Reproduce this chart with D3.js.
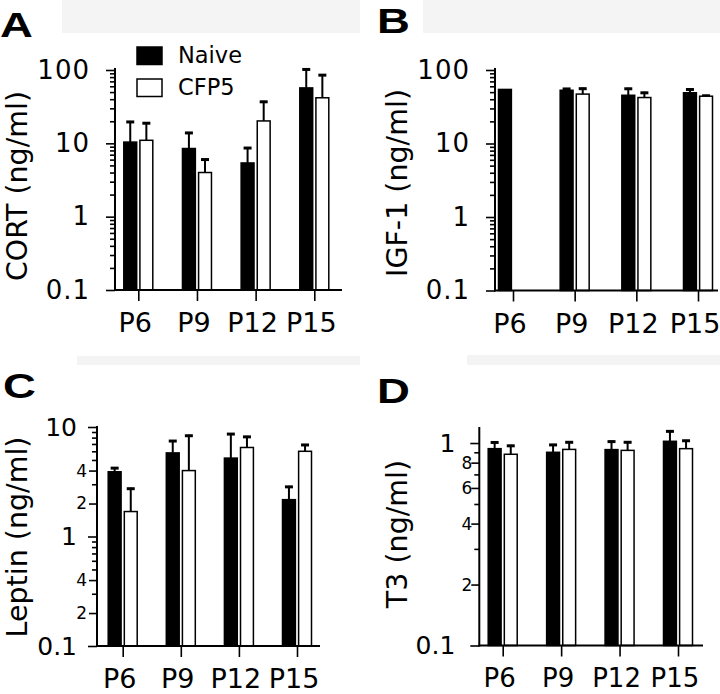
<!DOCTYPE html>
<html><head><meta charset="utf-8">
<script src="https://cdn.jsdelivr.net/npm/d3@7"></script>
<style>
html,body{margin:0;padding:0;background:#fff;}
svg{display:block;font-family:"DejaVu Sans",sans-serif;}
</style></head><body>
<svg id="chart" width="720" height="694"></svg>
<script>
// ---------------- data ----------------
const categories = ["P6", "P9", "P12", "P15"];
const seriesNames = ["Naive", "CFP5"];

const cortNaive = [10.4, 8.5, 5.4, 57];
const cortNaiveSem = [9.8, 5.8, 3.5, 48];
const cortCfp5 = [11, 4.0, 20.2, 41.8];
const cortCfp5Sem = [8.4, 2.2, 17.8, 46];

const igfNaive = [54.4, 53, 45.3, 49];
const igfNaiveSem = [0, 4, 12, 7];
const igfCfp5 = [null, 47, 42.2, 44];
const igfCfp5Sem = [null, 10.5, 8.3, 2];

const leptinNaive = [3.9, 5.8, 5.2, 2.17];
const leptinNaiveSem = [0.4, 1.8, 3.6, 0.73];
const leptinCfp5 = [1.69, 4.0, 6.5, 6.0];
const leptinCfp5Sem = [1.1, 4.5, 1.8, 1.0];

const t3Naive = [0.938, 0.90, 0.928, 1.02];
const t3NaiveSem = [0.08, 0.09, 0.10, 0.135];
const t3Cfp5 = [0.88, 0.93, 0.92, 0.938];
const t3Cfp5Sem = [0.10, 0.09, 0.10, 0.10];

const cortDomain = [0.1, 100];
const leptinDomain = [0.1, 10];
const t3Domain = [0.1, 1.2];

const decadeTicks = [0.1, 1, 10, 100];
const decadeTickLabels = ["0.1", "1", "10", "100"];
const leptinTicks = [0.1, 1, 10];
const leptinTickLabels = ["0.1", "1", "10"];
const leptinSubTicks = [0.2, 0.4, 2, 4];
const leptinSubLabels = ["2", "4", "2", "4"];
const t3Ticks = [0.1, 1];
const t3TickLabels = ["0.1", "1"];
const t3SubTicks = [0.2, 0.4, 0.6, 0.8];
const t3SubLabels = ["2", "4", "6", "8"];

const panelLetters = ["A", "B", "C", "D"];
const yTitles = ["CORT (ng/ml)", "IGF-1 (ng/ml)", "Leptin (ng/ml)", "T3 (ng/ml)"];

// ---------------- layout ----------------
const panels = [
  {letter: panelLetters[0], title: yTitles[0], naive: cortNaive, naiveSem: cortNaiveSem, cfp: cortCfp5, cfpSem: cortCfp5Sem,
   domain: cortDomain, ticks: decadeTicks, tickLabels: decadeTickLabels, sub: [], subLabels: [],
   lx: 0, ly: 37, axisX: 115, xEnd: 342, yTop: 70, yBottom: 290, lineTop: 68, c0: 138.3, c3: 314.3,
   titleX: 27, titleY: 186, xLabelY: 332, xFont: 27, tickFont: 26, tickSpacing: 1, tickGap: 25, subFont: 17, subGap: 10, legend: true},
  {letter: panelLetters[1], title: yTitles[1], naive: igfNaive, naiveSem: igfNaiveSem, cfp: igfCfp5, cfpSem: igfCfp5Sem,
   domain: cortDomain, ticks: decadeTicks, tickLabels: decadeTickLabels, sub: [], subLabels: [],
   lx: 377, ly: 33, axisX: 495, xEnd: 718, yTop: 70, yBottom: 290.5, lineTop: 68, c0: 513, c3: 698,
   titleX: 407, titleY: 183, xLabelY: 333, xFont: 27, tickFont: 26, tickSpacing: 1, tickGap: 25, subFont: 17, subGap: 10, legend: false},
  {letter: panelLetters[2], title: yTitles[2], naive: leptinNaive, naiveSem: leptinNaiveSem, cfp: leptinCfp5, cfpSem: leptinCfp5Sem,
   domain: leptinDomain, ticks: leptinTicks, tickLabels: leptinTickLabels, sub: leptinSubTicks, subLabels: leptinSubLabels,
   lx: 3, ly: 398, axisX: 97, xEnd: 320, yTop: 427, yBottom: 646, lineTop: 426, c0: 122.7, c3: 297,
   titleX: 27, titleY: 537, xLabelY: 688, xFont: 27, tickFont: 25, tickSpacing: 0, tickGap: 20, subFont: 17, subGap: 10, legend: false},
  {letter: panelLetters[3], title: yTitles[3], naive: t3Naive, naiveSem: t3NaiveSem, cfp: t3Cfp5, cfpSem: t3Cfp5Sem,
   domain: t3Domain, ticks: t3Ticks, tickLabels: t3TickLabels, sub: t3SubTicks, subLabels: t3SubLabels,
   lx: 377, ly: 403, axisX: 479.3, xEnd: 703, yTop: 427, yBottom: 645.5, lineTop: 427, c0: 502.7, c3: 678,
   titleX: 407, titleY: 534, xLabelY: 687, xFont: 26, tickFont: 25, tickSpacing: 0, tickGap: 24, subFont: 17, subGap: 7, legend: false}
];

const svg = d3.select("#chart");

// faint scan-background strips
const strips = [[62, 0, 298, 33], [423, 0, 297, 33], [77, 356, 283, 9], [467, 355, 253, 10]];
svg.selectAll("rect.strip").data(strips).join("rect").attr("class", "strip")
  .attr("x", d => d[0]).attr("y", d => d[1]).attr("width", d => d[2]).attr("height", d => d[3])
  .attr("fill", "#f4f4f4");

panels.forEach(p => {
  const g = svg.append("g");
  const y = d3.scaleLog().domain(p.domain).range([p.yBottom, p.yTop]);
  const x = d3.scalePoint().domain(categories).range([p.c0, p.c3]);
  const xs = d3.scaleBand().domain(seriesNames).range([-14.5, 14.5]).paddingInner(0.2);

  // panel letter
  g.append("text").attr("transform", `translate(${p.lx},${p.ly}) scale(1.3,1)`)
    .attr("font-family", "'Liberation Sans', Arial, sans-serif").attr("font-weight", "bold")
    .attr("font-size", 35).text(p.letter);

  // y title
  g.append("text").attr("transform", `translate(${p.titleX},${p.titleY}) rotate(-90)`)
    .attr("text-anchor", "middle").attr("font-size", 28.5).text(p.title);

  // bars
  const rows = [];
  categories.forEach((c, i) => {
    rows.push({cat: c, s: seriesNames[0], v: p.naive[i], e: p.naiveSem[i]});
    rows.push({cat: c, s: seriesNames[1], v: p.cfp[i], e: p.cfpSem[i]});
  });
  const valid = rows.filter(d => d.v != null);
  const base = y(p.domain[0]);

  // error bars (upper only)
  const eb = valid.filter(d => d.e);
  const cx = d => x(d.cat) + xs(d.s) + xs.bandwidth() / 2;
  g.selectAll("line.err").data(eb).join("line").attr("class", "err")
    .attr("x1", cx).attr("x2", cx)
    .attr("y1", d => y(d.v)).attr("y2", d => y(d.v + d.e))
    .attr("stroke", "#000").attr("stroke-width", 2);
  g.selectAll("line.cap").data(eb).join("line").attr("class", "cap")
    .attr("x1", d => cx(d) - 4).attr("x2", d => cx(d) + 4)
    .attr("y1", d => y(d.v + d.e) + 1).attr("y2", d => y(d.v + d.e) + 1)
    .attr("stroke", "#000").attr("stroke-width", 3);

  g.selectAll("rect.bar").data(valid).join("rect").attr("class", "bar")
    .attr("x", d => x(d.cat) + xs(d.s))
    .attr("width", xs.bandwidth())
    .attr("y", d => y(d.v))
    .attr("height", d => base - y(d.v))
    .attr("fill", d => d.s === seriesNames[0] ? "#000" : "#fff")
    .attr("stroke", "#000").attr("stroke-width", 1.5);

  // y axis: minor ticks
  const skip = new Set([...p.ticks, ...p.sub].map(v => +v.toPrecision(6)));
  const minor = y.ticks().filter(v => !skip.has(+v.toPrecision(6)));
  const gyMinor = g.append("g").attr("transform", `translate(${p.axisX},0)`)
    .call(d3.axisLeft(y).tickValues(minor).tickSize(5).tickFormat(""));
  gyMinor.select(".domain").remove();

  const gyMajor = g.append("g").attr("transform", `translate(${p.axisX},0)`)
    .call(d3.axisLeft(y).tickValues(p.ticks).tickSize(9).tickPadding(p.tickGap - 9)
      .tickFormat((d, i) => p.tickLabels[i]));
  gyMajor.select(".domain").remove();
  gyMajor.selectAll("text").attr("font-size", p.tickFont).attr("font-family", "'DejaVu Sans',sans-serif")
    .attr("letter-spacing", p.tickSpacing).attr("fill", "#000");

  if (p.sub.length) {
    const gySub = g.append("g").attr("transform", `translate(${p.axisX},0)`)
      .call(d3.axisLeft(y).tickValues(p.sub).tickSize(8).tickPadding(p.subGap - 8)
        .tickFormat((d, i) => p.subLabels[i]));
    gySub.select(".domain").remove();
    gySub.selectAll("text").attr("font-size", p.subFont).attr("font-family", "'DejaVu Sans',sans-serif").attr("fill", "#000");
  }
  g.selectAll(".tick line").attr("stroke", "#000").attr("stroke-width", 1.6);

  g.append("line").attr("x1", p.axisX).attr("x2", p.axisX)
    .attr("y1", p.lineTop).attr("y2", base + 1)
    .attr("stroke", "#000").attr("stroke-width", 2);

  // x axis
  const gx = g.append("g").attr("transform", `translate(0,${base})`)
    .call(d3.axisBottom(x).tickSize(11).tickSizeOuter(0).tickFormat(""));
  gx.select(".domain").remove();
  gx.selectAll(".tick line").attr("stroke", "#000").attr("stroke-width", 1.6);
  g.append("line").attr("x1", p.axisX - 1).attr("x2", p.xEnd)
    .attr("y1", base).attr("y2", base).attr("stroke", "#000").attr("stroke-width", 2);

  g.selectAll("text.xl").data(categories).join("text").attr("class", "xl")
    .attr("x", d => x(d) - 3).attr("y", p.xLabelY)
    .attr("text-anchor", "middle").attr("font-size", p.xFont).text(d => d);

  if (p.legend) {
    const lg = g.append("g");
    seriesNames.forEach((s, i) => {
      lg.append("rect").attr("x", 137).attr("y", 47 + i * 32).attr("width", 25).attr("height", 17.5)
        .attr("fill", i === 0 ? "#000" : "#fff").attr("stroke", "#000").attr("stroke-width", 1.5);
      lg.append("text").attr("x", 178).attr("y", 63 + i * 32).attr("font-size", 22.5).text(s);
    });
  }
});
</script>
</body></html>
